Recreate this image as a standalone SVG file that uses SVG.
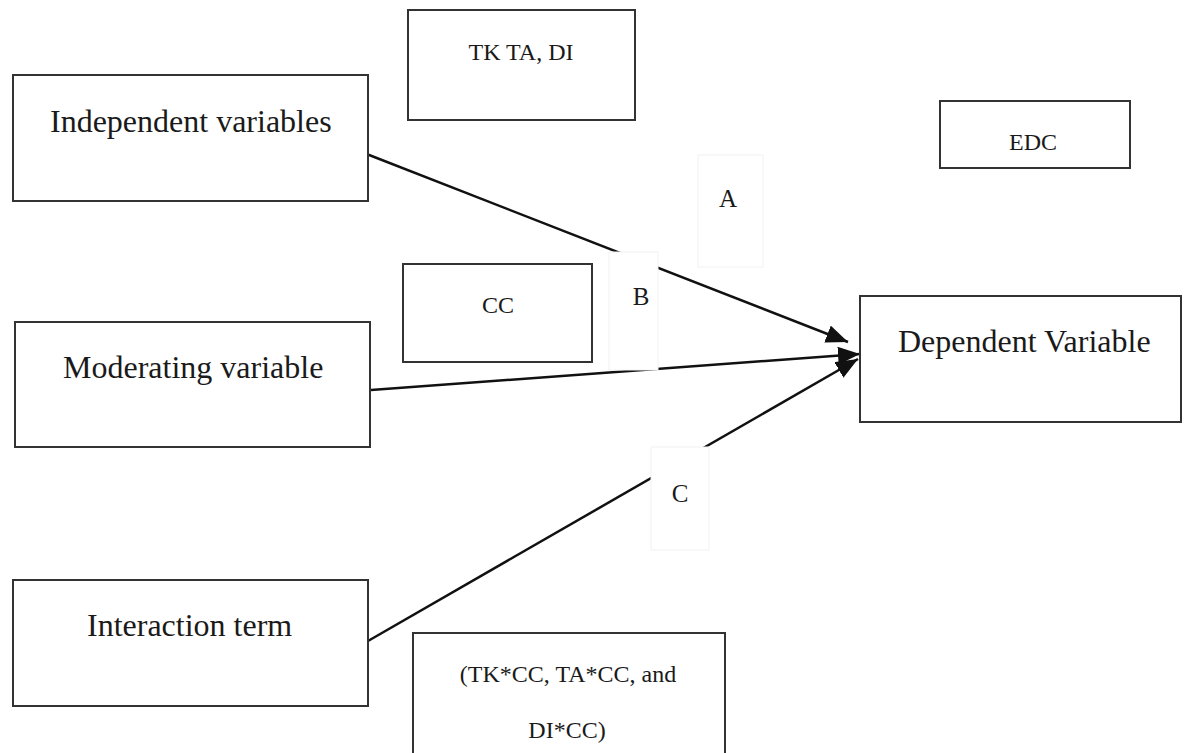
<svg xmlns="http://www.w3.org/2000/svg" width="1184" height="753" viewBox="0 0 1184 753">
<style>
.box{fill:#fff;stroke:#333;stroke-width:2}
.lbl{fill:#fff;stroke:#f2f2f2;stroke-width:1}
.big{font-family:"Liberation Serif","Times New Roman",serif;font-size:32px;fill:#1a1a1a}
.sm{font-family:"Liberation Serif","Times New Roman",serif;font-size:24px;fill:#1a1a1a}
.ab{font-family:"Liberation Serif","Times New Roman",serif;font-size:25px;fill:#1a1a1a}
.con{stroke:#111;stroke-width:2.5;fill:none}
</style>
<defs>
<marker id="ah" markerUnits="userSpaceOnUse" markerWidth="24" markerHeight="20" refX="22" refY="9" orient="auto">
<path d="M0,0 L22,9 L0,18 Z" fill="#111"/>
</marker>
</defs>
<rect width="1184" height="753" fill="#fff"/>
<g id="connectors">
<line class="con" x1="364" y1="153" x2="848" y2="342" marker-end="url(#ah)"/>
<line class="con" x1="371" y1="390" x2="860" y2="354" marker-end="url(#ah)"/>
<line class="con" x1="368" y1="641" x2="858" y2="359" marker-end="url(#ah)"/>
</g>
<g id="independent">
<rect class="box" x="13" y="75" width="355" height="126"/>
<text class="big" x="50" y="132">Independent variables</text>
</g>
<g id="moderating">
<rect class="box" x="15" y="322" width="355" height="125"/>
<text class="big" x="63" y="378">Moderating variable</text>
</g>
<g id="interaction">
<rect class="box" x="13" y="580" width="355" height="126"/>
<text class="big" x="87" y="636">Interaction term</text>
</g>
<g id="dependent">
<rect class="box" x="860" y="296" width="321" height="126"/>
<text class="big" x="898" y="352">Dependent Variable</text>
</g>
<g id="tkta">
<rect class="box" x="408" y="10" width="227" height="110"/>
<text class="sm" x="521" y="60" text-anchor="middle">TK TA, DI</text>
</g>
<g id="edc">
<rect class="box" x="940" y="101" width="190" height="67"/>
<text class="sm" x="1033" y="150" text-anchor="middle">EDC</text>
</g>
<g id="cc">
<rect class="box" x="403" y="264" width="189" height="98"/>
<text class="sm" x="498" y="313" text-anchor="middle">CC</text>
</g>
<g id="terms">
<rect class="box" x="413" y="633" width="312" height="130"/>
<text class="sm" x="568" y="682" text-anchor="middle">(TK*CC, TA*CC, and</text>
<text class="sm" x="567" y="738" text-anchor="middle">DI*CC)</text>
</g>
<g id="labelA">
<rect class="lbl" x="698" y="155" width="65" height="112"/>
<text class="ab" x="728" y="207" text-anchor="middle">A</text>
</g>
<g id="labelB">
<rect class="lbl" x="609" y="252" width="49" height="118"/>
<text class="ab" x="641" y="305" text-anchor="middle">B</text>
</g>
<g id="labelC">
<rect class="lbl" x="651" y="447" width="58" height="103"/>
<text class="ab" x="680" y="502" text-anchor="middle">C</text>
</g>
</svg>
